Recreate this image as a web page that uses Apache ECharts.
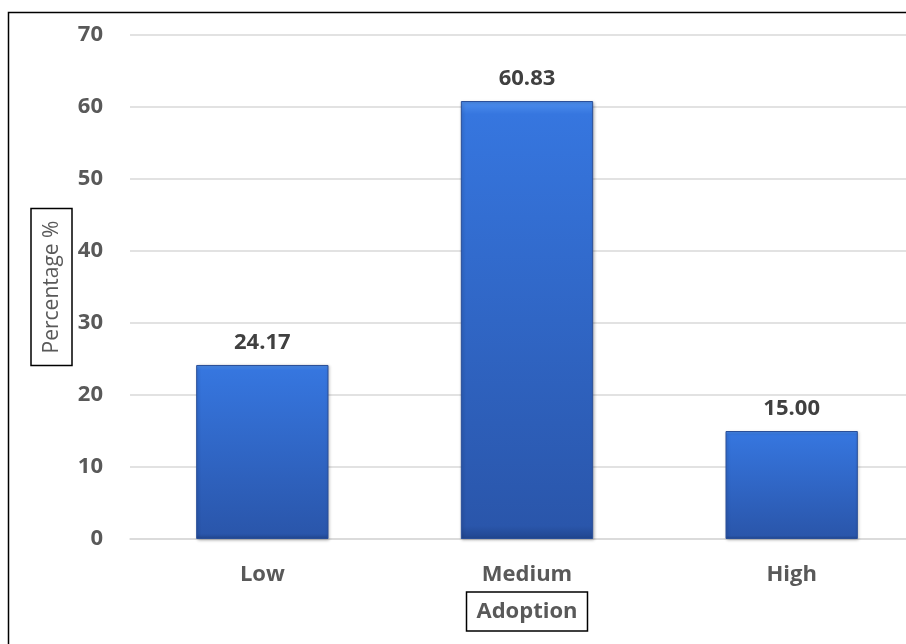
<!DOCTYPE html>
<html>
<head>
<meta charset="utf-8">
<script src="https://cdn.jsdelivr.net/npm/echarts@6/dist/echarts.min.js"></script>
<style>
  html, body { margin: 0; padding: 0; background: #ffffff; }
  #chart { width: 906px; height: 644px; }
</style>
</head>
<body>
<div id="chart"></div>
<script>
// Adoption levels and their share of respondents (%)
const categories = ['Low', 'Medium', 'High'];
const percentages = [24.17, 60.83, 15.00];
const yTicks = [0, 10, 20, 30, 40, 50, 60, 70];

const FONT = '"Open Sans", "Noto Sans", sans-serif';
const chart = echarts.init(document.getElementById('chart'), null, { renderer: 'canvas' });

chart.setOption({
  backgroundColor: '#ffffff',
  animation: false,
  graphic: [{
    type: 'rect',
    shape: { x: 8.5, y: 12.5, width: 1200, height: 1200 },
    style: { fill: 'none', stroke: '#000000', lineWidth: 1.5 },
    silent: true
  }],
  // plot area runs past the right edge of the frame
  grid: { left: 130, top: 35, width: 794, height: 504, outerBoundsMode: 'none', containLabel: false },
  xAxis: {
    type: 'category',
    data: categories,
    name: 'Adoption',
    nameLocation: 'middle',
    nameGap: 53,
    nameMoveOverlap: false,
    nameTextStyle: {
      fontFamily: FONT, fontSize: 22, fontWeight: 'bold', color: '#595959',
      borderColor: '#000000', borderWidth: 1.5, padding: [8, 10, 7, 10],
      lineHeight: 24, verticalAlign: 'top'
    },
    axisLine: { show: true, lineStyle: { color: '#d9d9d9', width: 1.5 } },
    axisTick: { show: false },
    axisLabel: { fontFamily: FONT, fontSize: 22, fontWeight: 'bold', color: '#595959', margin: 25 }
  },
  yAxis: {
    type: 'value',
    min: yTicks[0],
    max: yTicks[yTicks.length - 1],
    interval: 10,
    name: 'Percentage %',
    nameLocation: 'middle',
    nameRotate: 90,
    nameGap: 58,
    nameMoveOverlap: false,
    nameTextStyle: {
      fontFamily: FONT, fontSize: 21, color: '#595959', lineHeight: 22,
      borderColor: '#000000', borderWidth: 1.5, padding: [10, 12, 9, 12]
    },
    axisLine: { show: false },
    axisTick: { show: false },
    splitLine: { lineStyle: { color: '#d9d9d9', width: 1.5 } },
    axisLabel: { fontFamily: FONT, fontSize: 22, fontWeight: 'bold', color: '#595959', margin: 27 }
  },
  series: [{
    type: 'bar',
    data: percentages,
    barWidth: '50%',
    itemStyle: {
      color: {
        type: 'linear', x: 0, y: 0, x2: 0, y2: 1,
        colorStops: [
          { offset: 0, color: '#4f90ee' },
          { offset: 0.03, color: '#3676df' },
          { offset: 0.97, color: '#2a56ab' },
          { offset: 1, color: '#21468f' }
        ]
      },
      borderColor: '#2a4f98',
      borderWidth: 1,
      shadowColor: 'rgba(0,0,0,0.25)',
      shadowBlur: 3,
      shadowOffsetX: 1,
      shadowOffsetY: 1
    },
    label: {
      show: true,
      position: 'top',
      distance: 11,
      formatter: p => p.value.toFixed(2),
      fontFamily: FONT, fontSize: 22, fontWeight: 'bold', color: '#404040'
    }
  }]
});
</script>
</body>
</html>
